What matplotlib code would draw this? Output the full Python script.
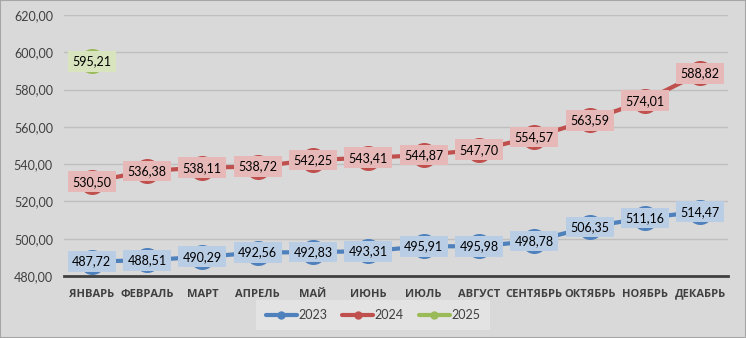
import matplotlib
matplotlib.use("Agg")
import matplotlib.pyplot as plt
from matplotlib.patches import Rectangle

months = ["ЯНВАРЬ", "ФЕВРАЛЬ", "МАРТ", "АПРЕЛЬ", "МАЙ", "ИЮНЬ", "ИЮЛЬ",
          "АВГУСТ", "СЕНТЯБРЬ", "ОКТЯБРЬ", "НОЯБРЬ", "ДЕКАБРЬ"]
v2023 = [487.72, 488.51, 490.29, 492.56, 492.83, 493.31, 495.91,
         495.98, 498.78, 506.35, 511.16, 514.47]
v2024 = [530.50, 536.38, 538.11, 538.72, 542.25, 543.41, 544.87,
         547.70, 554.57, 563.59, 574.01, 588.82]
v2025 = [595.21]

series = [
    ("2023", v2023, "#4F81BD", "#B9CDE5"),
    ("2024", v2024, "#C0504D", "#E6B9B8"),
    ("2025", v2025, "#9BBB59", "#D7E4BD"),
]

BG = "#D9D9D9"
plt.rcParams["font.family"] = ["Lato", "DejaVu Sans"]

fig = plt.figure(figsize=(7.46, 3.38), dpi=100, facecolor=BG)
ax = fig.add_axes([0.0858, 0.1834, 0.890, 0.7722], facecolor=BG)

x = list(range(len(months)))
for name, vals, lc, fc in series:
    xs = x[:len(vals)]
    ax.plot(xs, vals, color=lc, lw=3, marker="o", ms=17, label=name,
            solid_capstyle="round", zorder=3)
    for xi, v in zip(xs, vals):
        ax.text(xi, v, f"{v:.2f}".replace(".", ","), ha="center", va="center",
                fontsize=9, color="black", zorder=5,
                bbox=dict(boxstyle="square,pad=0.35", fc=fc, ec="none"))

ax.set_xlim(-0.5, len(months) - 0.5)
ax.set_ylim(480, 620)
ax.set_yticks(range(480, 621, 20))
ax.set_yticklabels([f"{t},00" for t in range(480, 621, 20)])
ax.set_xticks(x)
ax.set_xticklabels(months, fontweight="bold", family=["Open Sans", "DejaVu Sans"],
                   fontsize=8)
ax.tick_params(axis="both", length=0, labelsize=9, colors="#404040")
ax.tick_params(axis="x", pad=9)
ax.tick_params(axis="y", pad=8)
for lbl in ax.get_xticklabels():
    lbl.set_fontsize(8)
ax.grid(axis="y", color="#BFBFBF", lw=1)
ax.set_axisbelow(True)
for s in ["top", "right", "left"]:
    ax.spines[s].set_visible(False)
ax.spines["bottom"].set_color("#404040")
ax.spines["bottom"].set_linewidth(2)
ax.spines["bottom"].set_zorder(2)

leg = fig.legend(loc="lower center", bbox_to_anchor=(0.5, 0.015), ncol=3,
                 frameon=True, fontsize=9, handlelength=2.5,
                 handletextpad=0.1, columnspacing=1.2, borderpad=0.45)
leg.get_frame().set_facecolor("#E6E6E6")
leg.get_frame().set_edgecolor("none")
leg.get_frame().set_boxstyle("square")
for h in leg.legend_handles:
    h.set_markersize(5)
    h.set_linewidth(3)
for t in leg.get_texts():
    t.set_color("#404040")

fig.patches.append(Rectangle((0, 0), 1, 1, transform=fig.transFigure,
                             fill=False, ec="#A6A6A6", lw=1.5))
fig.savefig("out.png", dpi=100, facecolor=BG)
